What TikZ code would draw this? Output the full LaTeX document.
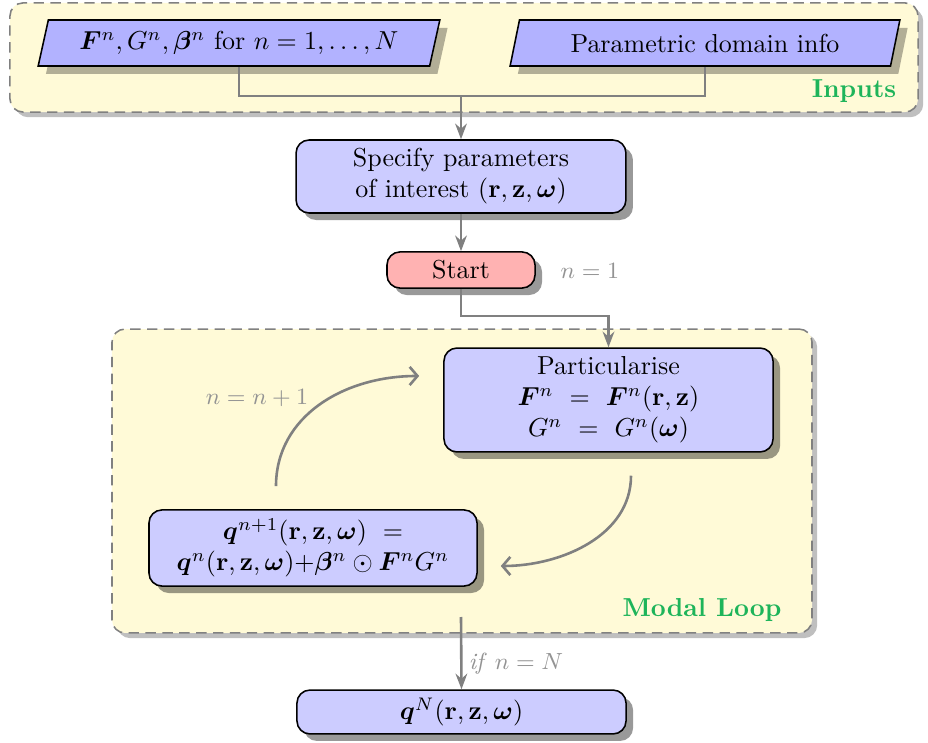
\documentclass[tikz,border=0pt]{standalone}
\usepackage{amsmath,bm}
\usetikzlibrary{shapes.geometric,shadows,arrows.meta,calc}
\definecolor{boxyellow}{RGB}{255,250,215}
\definecolor{lblgreen}{RGB}{30,180,90}
\begin{document}
\begin{tikzpicture}[x=0.385pt,y=-0.385pt,
  container/.style={draw=gray,line width=0.6pt,dash pattern=on 4pt off 2.5pt,fill=boxyellow,rounded corners=5pt,inner sep=0pt,
    drop shadow={shadow xshift=2pt,shadow yshift=-2pt,fill=black,opacity=0.25}},
  procbox/.style={draw=black,line width=0.6pt,fill=blue!20,rounded corners=5pt,align=center,inner sep=0pt,
    drop shadow={shadow xshift=2.7pt,shadow yshift=-2.7pt,fill=black,opacity=0.4}},
  parabox/.style={trapezium,trapezium left angle=70,trapezium right angle=110,trapezium stretches=true,
    draw=black,line width=0.6pt,fill=blue!30,inner sep=0pt,minimum height=17.7pt,
    drop shadow={shadow xshift=3pt,shadow yshift=-3pt,fill=black,opacity=0.3}},
  grn/.style={text=lblgreen,font=\bfseries},
  lbl/.style={text=gray!85,font=\small},
  conn/.style={draw=gray,line width=1pt},
  arr/.style={conn,-{Stealth[length=6pt,width=4.5pt]}},
  carr/.style={conn,-{Straight Barb[length=3pt,width=7pt]}}
]
\useasboundingbox (0,0) rectangle (928,743);

% containers
\node[container,minimum width=349.6pt,minimum height=42pt] (inputs) at (464,57.5) {};
\node[container,minimum width=269.5pt,minimum height=117pt] (modal) at (462,481) {};

% inputs
\node[parabox,minimum width=154.8pt] (p1) at (239,43) {$\bm{F}^n, G^n, \bm{\beta}^n$ for $n=1,\dots,N$};
\node[parabox,minimum width=150.2pt] (p2) at (705,43) {Parametric domain info};
\node[grn] (inlbl) at (854,91) {Inputs};

% main flow
\node[procbox,minimum width=127pt,minimum height=28.1pt] (spec) at (461,176.5) {Specify parameters\\of interest $(\mathbf{r},\mathbf{z},\bm{\omega})$};
\node[procbox,fill=red!30,minimum width=57pt,minimum height=13.9pt] (start) at (461,270) {Start};
\node[lbl] (n1) at (590,271) {$n=1$};

\node[procbox,minimum width=126.7pt,minimum height=40pt] (part) at (608.5,400)
  {Particularise\\ $\bm{F}^n \mkern6mu=\mkern6mu \bm{F}^n(\mathbf{r},\mathbf{z})$\\ $G^n \mkern6mu=\mkern6mu G^n(\bm{\omega})$};
\node[procbox,minimum width=126.3pt,minimum height=29.3pt] (q) at (313,548)
  {$\bm{q}^{n+1}(\mathbf{r},\mathbf{z},\bm{\omega}) \mkern6mu=$\\ $\bm{q}^{n}(\mathbf{r},\mathbf{z},\bm{\omega}){+}\bm{\beta}^n \odot \bm{F}^n G^n$};
\node[grn] (mllbl) at (702,610) {Modal Loop};
\node[lbl] (inc) at (257,398) {$n=n+1$};

\node[procbox,minimum width=126.7pt,minimum height=16.9pt] (fin) at (461.5,712) {$\bm{q}^N(\mathbf{r},\mathbf{z},\bm{\omega})$};
\node[lbl] (ifl) at (516,664) {\textit{if} $n=N$};

% connectors
\coordinate (j) at (461,96);
\draw[conn] (p1.south) |- (j) -| (p2.south);
\draw[arr] (j) -- (spec.north);
\draw[arr] (spec.south) -- (start.north);
\coordinate (k) at (608.5,316);
\draw[arr] (start.south) |- (k) -- (part.north);
\draw[carr] ($(part.south)+(22.5,23)$) .. controls +(0,60) and +(60,0) .. ($(q.east)+(23,18)$);
\draw[carr] ($(q.north)+(-37,-23)$) .. controls +(0,-70) and +(-75,0) .. ($(part.west)+(-24,-24)$);
\coordinate (m) at (461,617);
\draw[arr] (m) -- (fin.north);
\end{tikzpicture}
\end{document}
